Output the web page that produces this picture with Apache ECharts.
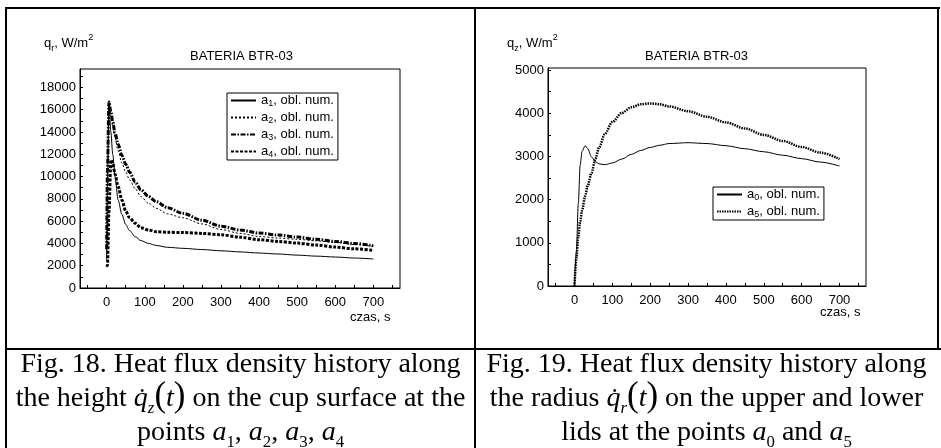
<!DOCTYPE html>
<html>
<head>
<meta charset="utf-8">
<script src="https://cdn.jsdelivr.net/npm/echarts@6/dist/echarts.min.js"></script>
<style>
  body { margin: 0; background: #fff; }
  #chart { position: absolute; left: 0; top: 0; width: 941px; height: 349px; }
  .ln { position: absolute; background: #000; }
  .cap { position: absolute; height: 34px; text-align: center; white-space: nowrap;
         font-family: "Liberation Serif", serif; font-size: 28px; line-height: 34px; color: #000; }
  .cap sub { font-size: 0.6em; line-height: 0; }
  .big { font-size: 1.25em; line-height: 0; }
</style>
</head>
<body>
<div id="chart"></div>
<div class="ln" style="left:5px;top:7px;width:935px;height:2px"></div>
<div class="ln" style="left:5px;top:7px;width:2px;height:441px"></div>
<div class="ln" style="left:474px;top:7px;width:2px;height:441px"></div>
<div class="ln" style="left:937px;top:7px;width:2px;height:342px"></div>
<div class="ln" style="left:5px;top:348px;width:936px;height:2px"></div>

<div class="cap" style="left:7px;width:467px;top:346px">Fig. 18. Heat flux density history along</div>
<div class="cap" style="left:7px;width:467px;top:380px">the height <i>q&#775;<sub>z</sub></i><span class="big">(</span><i>t</i><span class="big">)</span> on the cup surface at the</div>
<div class="cap" style="left:7px;width:467px;top:414px">points <i>a</i><sub>1</sub>, <i>a</i><sub>2</sub>, <i>a</i><sub>3</sub>, <i>a</i><sub>4</sub></div>

<div class="cap" style="left:476px;width:461px;top:346px">Fig. 19. Heat flux density history along</div>
<div class="cap" style="left:476px;width:461px;top:380px">the radius <i>q&#775;<sub>r</sub></i><span class="big">(</span><i>t</i><span class="big">)</span> on the upper and lower</div>
<div class="cap" style="left:476px;width:461px;top:414px">lids at the points <i>a</i><sub>0</sub> and <i>a</i><sub>5</sub></div>
<script>
// Fig. 18 - time [s] and heat flux [W/m2]
const tLeft = [0, 2, 6, 11, 16, 22, 30, 40, 50, 60, 75, 90, 110, 130, 160, 200, 250, 300, 350, 400, 450, 500, 550, 600, 650, 700];
const a1 = [2500, 9000, 16700, 14000, 12000, 10000, 7900, 6600, 5700, 5150, 4600, 4250, 4000, 3820, 3650, 3560, 3450, 3340, 3240, 3140, 3050, 2950, 2860, 2780, 2690, 2600];
const a2 = [3000, 10000, 16600, 15500, 14500, 13500, 12300, 11200, 10400, 9700, 8900, 8200, 7600, 7150, 6650, 6300, 5750, 5250, 4900, 4620, 4480, 4370, 4230, 4090, 3910, 3730];
const a3 = [3500, 10500, 16700, 15800, 14900, 13900, 12900, 11900, 11100, 10400, 9500, 8800, 8200, 7750, 7200, 6700, 6080, 5550, 5200, 4930, 4750, 4570, 4370, 4180, 3990, 3790];
const a4 = [1900, 2000, 6800, 11500, 11200, 10200, 9100, 7900, 6900, 6300, 5800, 5400, 5200, 5050, 5000, 4980, 4900, 4780, 4560, 4330, 4180, 4030, 3850, 3670, 3520, 3370];

// Fig. 19
const tRight = [0, 5, 10, 15, 20, 28, 35, 45, 55, 65, 80, 100, 125, 150, 175, 200, 225, 250, 300, 350, 400, 450, 500, 550, 600, 650, 700];
const a0 = [0, 800, 1900, 2800, 3120, 3250, 3180, 2990, 2880, 2830, 2810, 2850, 2940, 3050, 3140, 3210, 3260, 3300, 3320, 3300, 3250, 3180, 3110, 3030, 2950, 2870, 2780];
const a5 = [0, 650, 1150, 1500, 1750, 2080, 2330, 2620, 2940, 3210, 3520, 3800, 4010, 4140, 4210, 4230, 4210, 4160, 4050, 3920, 3790, 3650, 3500, 3360, 3220, 3090, 2940];

// tick labels
const xLabels = [0, 100, 200, 300, 400, 500, 600, 700];
const xTicks = [-50, 0, 50, 100, 150, 200, 250, 300, 350, 400, 450, 500, 550, 600, 650, 700, 750];
const yLeftLabels = [0, 2000, 4000, 6000, 8000, 10000, 12000, 14000, 16000, 18000];
const yLeftTicks = [0, 1000, 2000, 3000, 4000, 5000, 6000, 7000, 8000, 9000, 10000, 11000, 12000, 13000, 14000, 15000, 16000, 17000, 18000, 19000];
const yRightLabels = [0, 1000, 2000, 3000, 4000, 5000];
const yRightTicks = [0, 500, 1000, 1500, 2000, 2500, 3000, 3500, 4000, 4500, 5000];

const FONT = 'Liberation Sans';
const zip = (t, v) => t.map((x, i) => [x, v[i]]);

const rich = {
  t: { fontSize: 13, fontFamily: FONT, color: '#000', lineHeight: 20, verticalAlign: 'middle' },
  s: { fontSize: 9, fontFamily: FONT, color: '#000', lineHeight: 9, verticalAlign: 'bottom' },
  p: { fontSize: 9, fontFamily: FONT, color: '#000', lineHeight: 9, verticalAlign: 'top' }
};

function xAxisCfg(gi) {
  return {
    type: 'value', gridIndex: gi, min: -70, max: 770,
    axisLine: { onZero: false, lineStyle: { color: '#000', width: 1 } },
    axisTick: { inside: true, length: 3, customValues: xTicks, lineStyle: { color: '#000' } },
    axisLabel: { customValues: xLabels, formatter: v => String(v), color: '#000', fontSize: 13, fontFamily: FONT, margin: 8 },
    splitLine: { show: false }
  };
}
function yAxisCfg(gi, max, labels, ticks) {
  return {
    type: 'value', gridIndex: gi, min: 0, max: max,
    axisLine: { show: true, onZero: false, lineStyle: { color: '#000', width: 1 } },
    axisTick: { show: true, inside: true, length: 3, customValues: ticks, lineStyle: { color: '#000' } },
    axisLabel: { customValues: labels, formatter: v => String(v), color: '#000', fontSize: 13, fontFamily: FONT, margin: 4 },
    splitLine: { show: false }
  };
}
function line(name, data, gi, width, type) {
  return {
    name: name, type: 'line', data: data, xAxisIndex: gi, yAxisIndex: gi,
    symbol: 'none', smooth: 0.3, smoothMonotone: 'x', color: '#000',
    itemStyle: { color: '#000' },
    lineStyle: { color: '#000', width: width, type: type }
  };
}
function legendCfg(left, top, names) {
  return {
    orient: 'vertical', left: left, top: top, data: names,
    borderColor: '#000', borderWidth: 1, borderRadius: 0,
    padding: [1, 4, 1, 3], itemWidth: 25, itemHeight: 10, itemGap: 3,
    itemStyle: { opacity: 0 },
    formatter: n => '{t|a}{s|' + n.slice(1) + '}{t|, obl. num.}',
    textStyle: { rich: { t: { fontSize: 13, fontFamily: FONT, color: '#000', lineHeight: 15, verticalAlign: 'middle' },
                         s: { fontSize: 9, fontFamily: FONT, color: '#000', lineHeight: 9, verticalAlign: 'bottom' } } }
  };
}
function txt(text, left, top) {
  return { text: text, left: left, top: top, padding: 0,
           textStyle: { fontSize: 13, fontWeight: 'normal', fontFamily: FONT, color: '#000', rich: rich } };
}

const chart = echarts.init(document.getElementById('chart'));
chart.setOption({
  animation: false,
  textStyle: { fontFamily: FONT, color: '#000' },
  title: [
    txt('{t|q}{s|r}{t|, W/m}{p|2}', 44, 33),
    txt('BATERIA BTR-03', 190, 50),
    txt('czas, s', 350, 311),
    txt('{t|q}{s|z}{t|, W/m}{p|2}', 507, 33),
    txt('BATERIA BTR-03', 645, 50),
    txt('czas, s', 820, 306)
  ],
  grid: [
    { left: 80, top: 69, width: 320, height: 219, show: true, borderColor: '#000', borderWidth: 1, containLabel: false },
    { left: 548, top: 68, width: 318, height: 218, show: true, borderColor: '#000', borderWidth: 1, containLabel: false }
  ],
  xAxis: [xAxisCfg(0), xAxisCfg(1)],
  yAxis: [yAxisCfg(0, 19650, yLeftLabels, yLeftTicks), yAxisCfg(1, 5050, yRightLabels, yRightTicks)],
  legend: [legendCfg(227, 93, ['a1', 'a2', 'a3', 'a4']), legendCfg(713, 187, ['a0', 'a5'])],
  series: [
    line('a1', zip(tLeft, a1), 0, 1, 'solid'),
    line('a2', zip(tLeft, a2), 0, 1, [2, 2]),
    line('a3', zip(tLeft, a3), 0, 3, [5, 1.5, 1.5, 1.5]),
    line('a4', zip(tLeft, a4), 0, 3, [3, 1.5]),
    line('a0', zip(tRight, a0), 1, 1, 'solid'),
    line('a5', zip(tRight, a5), 1, 2.5, [1.5, 1])
  ]
});
</script>
</body>
</html>
